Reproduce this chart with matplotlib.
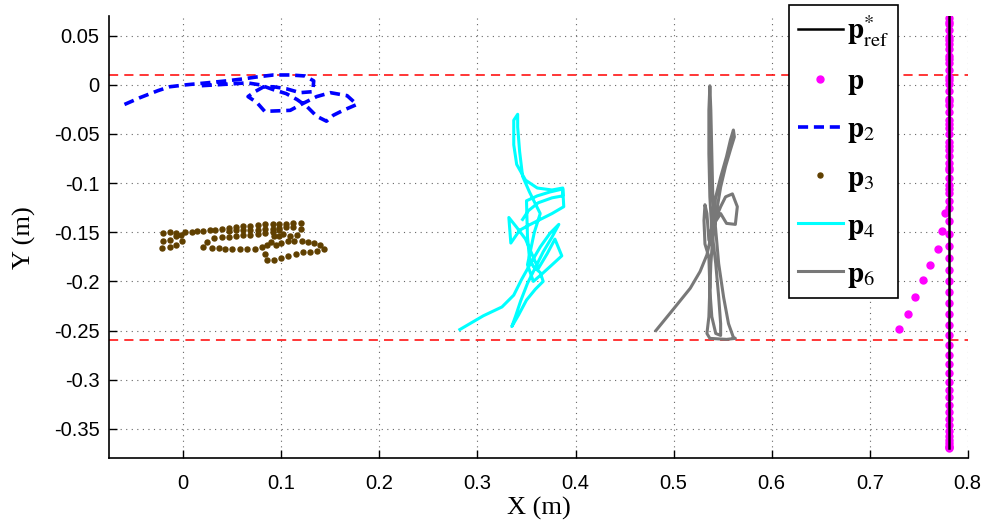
import matplotlib
matplotlib.use("Agg")
import matplotlib.pyplot as plt

# reference trajectory (vertical line)
ref_x = [0.781, 0.781]
ref_y = [0.07, -0.37]

# robot position p: approach then along the line
p_x = [0.730, 0.739, 0.746, 0.754, 0.762, 0.770, 0.774, 0.777,
       0.781, 0.781, 0.781, 0.781, 0.781, 0.781, 0.781, 0.781, 0.781, 0.781,
       0.781, 0.781, 0.781, 0.781, 0.781, 0.781, 0.781, 0.781, 0.781, 0.781,
       0.781, 0.781, 0.781, 0.781, 0.781, 0.781, 0.781, 0.781, 0.781, 0.781,
       0.781, 0.781, 0.781, 0.781, 0.781, 0.781, 0.781, 0.781, 0.781, 0.781,
       0.781, 0.781, 0.781, 0.781, 0.781, 0.781, 0.781, 0.781, 0.781, 0.781,
       0.781, 0.781, 0.781, 0.781, 0.781, 0.781, 0.781, 0.781, 0.781, 0.781,
       0.781, 0.781, 0.781, 0.781, 0.781, 0.781]
p_y = [-0.248, -0.233, -0.216, -0.199, -0.183, -0.167, -0.149, -0.130,
       -0.118, -0.110, -0.102, -0.095, -0.087, -0.080, -0.072, -0.066,
       -0.058, -0.050, -0.044, -0.036, -0.028, -0.021, -0.014, -0.006,
       0.001, 0.008, 0.015, 0.022, 0.029, 0.036, 0.042, 0.049, 0.056,
       0.062, 0.068, 0.064, 0.046, 0.026, 0.005, -0.016, -0.040, -0.062,
       -0.085, -0.106, -0.125, -0.139, -0.152, -0.164, -0.176, -0.188,
       -0.200, -0.211, -0.222, -0.233, -0.244, -0.255, -0.265, -0.275,
       -0.284, -0.293, -0.302, -0.310, -0.318, -0.326, -0.333, -0.340,
       -0.346, -0.352, -0.357, -0.361, -0.364, -0.367, -0.369, -0.370]

p2_x = [-0.060, -0.044, -0.026, -0.014, 0.003, 0.024, 0.044, 0.061, 0.075,
        0.092, 0.109, 0.124, 0.133, 0.132, 0.119, 0.105, 0.092, 0.082,
        0.073, 0.066, 0.075, 0.083, 0.109, 0.122, 0.136, 0.150, 0.167,
        0.177, 0.163, 0.153, 0.146, 0.136, 0.126, 0.116, 0.105, 0.092,
        0.078, 0.065, 0.051, 0.034, 0.017]
p2_y = [-0.020, -0.013, -0.006, -0.002, 0.000, 0.002, 0.004, 0.006, 0.008,
        0.010, 0.010, 0.009, 0.004, -0.007, -0.008, -0.004, -0.002, -0.002,
        -0.007, -0.012, -0.018, -0.027, -0.026, -0.019, -0.012, -0.008,
        -0.011, -0.020, -0.026, -0.031, -0.037, -0.032, -0.022, -0.015,
        -0.009, -0.005, 0.000, 0.002, 0.001, 0.000, -0.001]

p3_x = [-0.021, -0.014, -0.007, 0.002, 0.009, 0.014, 0.020, 0.027, 0.032,
        0.039, 0.047, 0.054, 0.061, 0.068, 0.076, 0.083, 0.091, 0.098,
        0.105, 0.112, 0.120,
        0.047, 0.054, 0.061, 0.068, 0.076, 0.083, 0.091, 0.098, 0.105,
        0.112, 0.120,
        0.031, 0.039, 0.047, 0.054, 0.061, 0.068, 0.076, 0.083, 0.091, 0.098,
        0.020, 0.029, 0.036, 0.043, 0.050, 0.058, 0.065, 0.073, 0.080,
        0.085, 0.089, 0.024,
        0.083, 0.085, 0.093, 0.100, 0.107, 0.115, 0.122, 0.129, 0.136, 0.143,
        0.092, 0.098, 0.102, 0.109, 0.116, 0.121, 0.127, 0.133, 0.139,
        0.095, 0.100, 0.107, 0.113,
        -0.021, -0.014, -0.007, -0.002, -0.022, -0.014, -0.007, -0.001]
p3_y = [-0.151, -0.150, -0.151, -0.150, -0.150, -0.149, -0.149, -0.148,
        -0.148, -0.147, -0.146, -0.145, -0.144, -0.144, -0.143, -0.142,
        -0.142, -0.142, -0.142, -0.141, -0.141,
        -0.149, -0.148, -0.148, -0.148, -0.148, -0.147, -0.147, -0.146,
        -0.145, -0.145, -0.147,
        -0.156, -0.155, -0.155, -0.154, -0.153, -0.153, -0.152, -0.151,
        -0.150, -0.148,
        -0.165, -0.166, -0.166, -0.167, -0.167, -0.167, -0.167, -0.167,
        -0.165, -0.163, -0.160, -0.160,
        -0.172, -0.178, -0.178, -0.176, -0.174, -0.172, -0.170, -0.170,
        -0.169, -0.167,
        -0.154, -0.154, -0.152, -0.154, -0.153, -0.159, -0.160, -0.161,
        -0.163,
        -0.163, -0.161, -0.159, -0.159,
        -0.159, -0.158, -0.154, -0.153, -0.166, -0.165, -0.163, -0.159]

p4_x = [0.282, 0.306, 0.325, 0.337, 0.345, 0.354, 0.364, 0.374, 0.383,
        0.376, 0.367, 0.359, 0.351, 0.344, 0.339, 0.335, 0.342, 0.350,
        0.359, 0.367, 0.364, 0.357, 0.353, 0.351, 0.350, 0.361, 0.374,
        0.387, 0.388, 0.376, 0.362, 0.352, 0.343, 0.334, 0.332, 0.340,
        0.349, 0.355, 0.362, 0.371, 0.379, 0.386, 0.374, 0.364, 0.357,
        0.351, 0.358, 0.364, 0.353, 0.346, 0.343, 0.341, 0.341, 0.337,
        0.337, 0.340, 0.349, 0.361, 0.376, 0.387, 0.387, 0.376, 0.362,
        0.352, 0.346]
p4_y = [-0.249, -0.235, -0.226, -0.214, -0.198, -0.182, -0.165, -0.151,
        -0.142, -0.155, -0.170, -0.186, -0.202, -0.220, -0.235, -0.246,
        -0.234, -0.219, -0.208, -0.200, -0.191, -0.185, -0.176, -0.155,
        -0.118, -0.113, -0.109, -0.106, -0.124, -0.131, -0.138, -0.143,
        -0.148, -0.161, -0.135, -0.145, -0.157, -0.171, -0.187, -0.172,
        -0.157, -0.174, -0.185, -0.194, -0.200, -0.183, -0.150, -0.131,
        -0.109, -0.093, -0.068, -0.043, -0.030, -0.036, -0.061, -0.081,
        -0.097, -0.105, -0.107, -0.105, -0.113, -0.115, -0.120, -0.128,
        -0.137]

p6_x = [0.482, 0.500, 0.517, 0.527, 0.534, 0.538, 0.540, 0.543, 0.548,
        0.554, 0.558, 0.561, 0.562, 0.558, 0.553, 0.548, 0.544, 0.540,
        0.538, 0.537, 0.539, 0.543, 0.548, 0.548, 0.546, 0.543, 0.539,
        0.537, 0.536, 0.536, 0.537, 0.538, 0.539, 0.540, 0.543, 0.546,
        0.551, 0.556, 0.561, 0.563, 0.554, 0.537, 0.534, 0.536, 0.537,
        0.536, 0.532, 0.531, 0.532, 0.534, 0.536, 0.539, 0.548, 0.554,
        0.563, 0.565, 0.560, 0.553, 0.548, 0.541, 0.537]
p6_y = [-0.250, -0.228, -0.207, -0.190, -0.173, -0.155, -0.134, -0.114,
        -0.094, -0.073, -0.056, -0.046, -0.053, -0.066, -0.083, -0.104,
        -0.128, -0.155, -0.182, -0.209, -0.236, -0.253, -0.255, -0.243,
        -0.216, -0.182, -0.148, -0.114, -0.070, -0.026, -0.001, -0.026,
        -0.070, -0.114, -0.148, -0.182, -0.216, -0.243, -0.257, -0.258,
        -0.259, -0.258, -0.253, -0.236, -0.206, -0.175, -0.162, -0.138,
        -0.122, -0.131, -0.158, -0.145, -0.131, -0.141, -0.142, -0.124,
        -0.111, -0.114, -0.124, -0.141, -0.162]

bounds_y = [0.01, -0.26]

x_ticks = [0, 0.1, 0.2, 0.3, 0.4, 0.5, 0.6, 0.7, 0.8]
x_labels = ['0', '0.1', '0.2', '0.3', '0.4', '0.5', '0.6', '0.7', '0.8']
y_ticks = [0.05, 0, -0.05, -0.1, -0.15, -0.2, -0.25, -0.3, -0.35]
y_labels = ['0.05', '0', '-0.05', '-0.1', '-0.15', '-0.2', '-0.25', '-0.3', '-0.35']

plt.rcParams['mathtext.fontset'] = 'stix'
plt.rcParams['font.family'] = ['Liberation Sans', 'DejaVu Sans']

fig = plt.figure(figsize=(9.88, 5.23), dpi=100)
ax = fig.add_axes([0.1106, 0.1237, 0.8689, 0.8457])

for yb in bounds_y:
    ax.axhline(yb, color='#ff0000', lw=1.1, dashes=(6, 4), zorder=2)

ax.plot(p_x, p_y, ls='none', marker='o', ms=5, color='#ff00ff', mec='#ff00ff',
        zorder=3, label=r'$\mathbf{p}$')
ax.plot(ref_x, ref_y, color='black', lw=1.8, zorder=4,
        label=r'$\mathbf{p}^{*}_{\mathrm{ref}}$')
ax.plot(p2_x, p2_y, color='#0000ff', lw=2.6, dashes=(2.8, 1.6), zorder=3,
        label=r'$\mathbf{p}_{2}$')
ax.plot(p3_x, p3_y, ls='none', marker='o', ms=3.6, color='#604000', mec='#604000',
        zorder=3, label=r'$\mathbf{p}_{3}$')
ax.plot(p4_x, p4_y, color='#00ffff', lw=2.2, zorder=3, label=r'$\mathbf{p}_{4}$')
ax.plot(p6_x, p6_y, color='#787878', lw=2.2, zorder=3, label=r'$\mathbf{p}_{6}$')

ax.set_xlim(-0.0755, 0.8)
ax.set_ylim(-0.38, 0.07)
ax.set_xticks(x_ticks)
ax.set_xticklabels(x_labels)
ax.set_yticks(y_ticks)
ax.set_yticklabels(y_labels)
ax.tick_params(direction='in', length=6, width=1, labelsize=14.5, pad=7)
ax.tick_params(axis='x', pad=11)
ax.grid(True, color='#666666', lw=0.8, dashes=(1, 4))
ax.spines['top'].set_visible(False)
ax.spines['right'].set_visible(False)
ax.spines['left'].set_linewidth(1.2)
ax.spines['bottom'].set_linewidth(1.2)

ax.set_xlabel('X (m)', fontfamily='Liberation Serif', fontsize=19, labelpad=3)
ax.set_ylabel('Y (m)', fontfamily='Liberation Serif', fontsize=19, labelpad=13)

handles, labels = ax.get_legend_handles_labels()
order = [1, 0, 2, 3, 4, 5]
leg = ax.legend([handles[i] for i in order], [labels[i] for i in order],
                loc='upper left', bbox_to_anchor=(789 / 988, 1 - 5 / 523),
                bbox_transform=fig.transFigure, borderaxespad=0, numpoints=1,
                fontsize=21, handlelength=1.55, handletextpad=0.15,
                labelspacing=0.62, borderpad=0.3, fancybox=False, framealpha=1)
leg.get_frame().set_edgecolor('black')
leg.get_frame().set_linewidth(1.2)
leg.set_zorder(10)

fig.savefig('out.png', dpi=100)
